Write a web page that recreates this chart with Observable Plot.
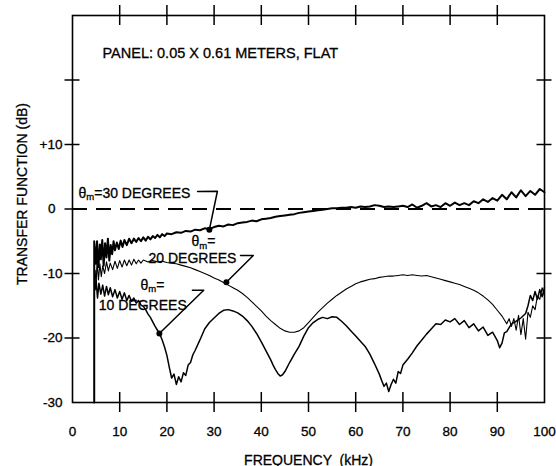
<!DOCTYPE html>
<html>
<head>
<meta charset="utf-8">
<script src="https://cdn.jsdelivr.net/npm/d3@7"></script>
<script src="https://cdn.jsdelivr.net/npm/@observablehq/plot@0.6"></script>
<style>
  html, body { margin: 0; padding: 0; background: #fff; }
  svg text { font-family: "Liberation Sans", Arial, Helvetica, sans-serif; stroke: #000; stroke-width: 0.3px; }
</style>
</head>
<body>
<div id="chart"></div>
<script>
// ---- Data (frequency kHz, transfer function dB) ----
const deg30 = [
  [4.6,-30],[4.6,-5.0],[5.0,-8.5],[5.2,-5.0],[5.5,-9.0],[5.8,-5.5],[6.0,-7.8],[6.3,-4.8],[6.6,-8.8],[6.9,-5.3],
  [7.2,-7.5],[7.5,-4.6],[7.8,-8.0],[8.1,-5.6],[8.4,-7.0],[8.7,-5.0],[9.0,-6.4],[9.4,-5.2],[9.8,-6.2],[10.2,-4.9],
  [10.6,-5.9],[11,-4.8],[11.5,-5.6],[12,-4.6],[12.5,-5.3],[13,-4.6],[13.5,-5.1],[14,-4.5],[14.5,-5.0],[15,-4.4],
  [15.5,-4.9],[16,-4.3],[16.5,-4.7],[17,-4.2],[17.5,-4.5],[18,-4.0],[18.5,-4.4],[19,-3.9],[19.5,-4.2],[20,-3.8],
  [21,-3.9],[22,-3.6],[23,-3.7],[24,-3.4],[25,-3.5],[26,-3.2],[27,-3.3],[28,-3.0],[29,-3.1],[30,-2.8],
  [31,-2.6],[32,-2.7],[33,-2.4],[34,-2.5],[35,-2.2],[36,-2.1],[37,-2.0],[38,-1.8],[39,-1.9],[40,-1.6],
  [41,-1.5],[42,-1.4],[43,-1.2],[44,-1.1],[45,-1.0],[46,-0.9],[47,-0.8],[48,-0.6],[49,-0.5],[50,-0.4],
  [51,-0.3],[52,-0.2],[53,-0.1],[54,0],[55,0.1],[56,0.1],[57,0.2],[58,0.2],[59,0.3],[60,0.2],
  [61,0.4],[62,0.3],[63,0.4],[64,0.6],[65,0.5],[66,0.3],[67,0.4],[68,0.3],[69,0.4],[70,0.5],
  [71,0.3],[72,0.7],[73,0.2],[74,0.5],[75,0.9],[76,0.4],[77,0.6],[78,0.3],[79,0.9],[80,0.5],
  [81,1.0],[82,0.6],[83,0.9],[84,0.6],[85,1.2],[86,0.9],[87,1.5],[88,1.1],[89,1.7],[90,1.3],
  [91,2.2],[92,1.5],[93,2.6],[94,1.8],[95,2.9],[96,2.0],[97,2.8],[98,2.2],[99,3.1],[100,2.6]
];
const deg20 = [
  [4.8,-9.5],[5.0,-12.0],[5.2,-8.0],[5.5,-11.0],[5.8,-8.5],[6.1,-10.5],[6.4,-8.8],[6.8,-10.0],[7.2,-8.2],[7.6,-9.6],
  [8.0,-8.4],[8.5,-9.4],[9.0,-8.1],[9.5,-9.2],[10,-8.0],[10.5,-9.0],[11,-7.9],[11.5,-8.8],[12,-7.9],[12.5,-8.7],
  [13,-7.8],[13.5,-8.5],[14,-7.9],[14.5,-8.4],[15,-7.9],[16,-8.2],[17,-8.0],[18,-8.2],[19,-8.1],[20,-8.3],
  [21,-8.4],[22,-8.5],[23,-8.7],[24,-8.9],[25,-9.1],[26,-9.4],[27,-9.7],[28,-10.0],[29,-10.3],[30,-10.7],
  [31,-11.0],[32,-11.4],[33,-11.8],[34,-12.2],[35,-12.6],[36,-13.1],[37,-13.7],[38,-14.4],[39,-15.1],[40,-15.8],
  [41,-16.6],[42,-17.3],[43,-17.9],[44,-18.5],[45,-18.9],[46,-19.1],[47,-19.1],[48,-18.9],[49,-18.4],[50,-17.6],
  [51,-16.8],[52,-16.0],[53,-15.3],[54,-14.6],[55,-14.0],[56,-13.4],[57,-12.9],[58,-12.4],[59,-12.0],[60,-11.6],
  [61,-11.3],[62,-11.1],[63,-10.9],[64,-10.8],[65,-10.6],[66,-10.5],[67,-10.4],[68,-10.4],[69,-10.3],[70,-10.2],
  [71,-10.3],[72,-10.2],[73,-10.3],[74,-10.4],[75,-10.3],[76,-10.5],[77,-10.7],[78,-10.9],[79,-11.1],[80,-11.3],
  [81,-11.5],[82,-11.7],[83,-12.0],[84,-12.3],[85,-12.6],[86,-13.0],[87,-13.5],[88,-14.1],[89,-14.8],[90,-15.7],
  [91,-16.6],[91.5,-17.2],[92,-17.8],[92.5,-17.0],[93,-18.2],[93.5,-17.0],[94,-18.8],[94.5,-16.5],[95,-19.5],[95.5,-17.0],
  [96,-20.2],[96.5,-16.0],[97,-16.8],[97.5,-15.0],[98,-15.6],[98.5,-13.5],[99,-14.0],[99.5,-12.2],[100,-13.5]
];
const deg10 = [
  [4.8,-12.5],[5.0,-11.0],[5.3,-13.8],[5.6,-11.5],[6.0,-13.2],[6.4,-11.8],[6.8,-13.5],[7.2,-12.0],[7.6,-13.3],[8.0,-12.2],
  [8.5,-13.6],[9.0,-12.5],[9.5,-13.8],[10,-12.8],[10.5,-14.0],[11,-13.0],[11.5,-14.2],[12,-13.4],[12.5,-14.3],[13,-13.8],
  [13.5,-14.6],[14,-14.2],[14.5,-14.9],[15,-15.1],[15.5,-15.6],[16,-16.3],[16.5,-16.8],[17,-17.5],[17.5,-18.2],[18,-18.8],
  [18.5,-19.4],[19,-20.3],[19.5,-21.4],[20,-22.7],[20.5,-24.5],[21,-26.2],[21.5,-25.6],[22,-27.2],[22.5,-26.0],[23,-26.8],
  [23.5,-25.4],[24,-25.8],[24.5,-24.2],[25,-23.8],[25.5,-22.6],[26,-21.9],[27,-20.3],[28,-18.6],[29,-17.6],[30,-16.9],
  [31,-16.2],[32,-15.7],[33,-15.6],[34,-15.8],[35,-16.1],[36,-16.6],[37,-17.3],[38,-18.2],[39,-19.3],[40,-20.6],
  [41,-22.0],[42,-23.4],[42.5,-24.2],[43,-24.9],[43.5,-25.5],[44,-25.9],[44.5,-25.7],[45,-25.2],[46,-23.8],[47,-22.5],
  [48,-21.3],[49,-19.7],[50,-18.4],[51,-17.6],[52,-17.1],[53,-16.8],[54,-17.0],[55,-16.7],[56,-16.8],[57,-17.4],
  [58,-18.1],[59,-18.9],[60,-19.7],[61,-20.5],[62,-21.3],[63,-22.5],[64,-24.0],[65,-25.6],[65.5,-26.6],[66,-27.5],
  [66.5,-27.0],[67,-28.3],[67.5,-27.2],[68,-26.4],[68.5,-27.0],[69,-25.2],[69.5,-25.5],[70,-24.2],[71,-23.3],[72,-22.3],
  [73,-21.2],[74,-20.3],[75,-19.4],[76,-18.6],[77,-17.8],[78,-17.9],[79,-17.2],[80,-17.5],[81,-17.0],[82,-17.9],
  [83,-17.3],[84,-18.4],[85,-17.8],[86,-18.9],[87,-18.3],[88,-19.6],[89,-19.1],[90,-20.4],[90.5,-21.5],[91,-20.8],
  [91.5,-19.2],[92,-19.0],[93,-17.8],[94,-17.4],[95,-16.9],[96,-16.2],[96.5,-15.0],[97,-13.4],[97.5,-14.2],[98,-12.8],
  [98.5,-14.0],[99,-12.5],[99.5,-13.6],[100,-12.2]
];

// ---- Tick labels ----
const xTickLabels = [0,10,20,30,40,50,60,70,80,90,100];
const yTickLabels = [-30,-20,-10,10];
const yZeroLabel = [0];
const xFrameTicks = [10,20,30,40,50,60,70,80,90];
const yFrameTicks = [-20,-10,0,10,20];

// ---- Annotations (text, leader lines, markers) ----
const panelNote = [{x: 6.36, y: 23.4, text: "PANEL: 0.05 X 0.61 METERS, FLAT"}];
const curveLabels = [
  {x: 1.27, y: 1.78, text: "θm=30 DEGREES"},
  {x: 25.2, y: -5.75, text: "θm="},
  {x: 16.1, y: -8.4, text: "20 DEGREES"},
  {x: 14.4, y: -12.5, text: "θm="},
  {x: 5.57, y: -15.7, text: "10 DEGREES"}
];
const leaders = [
  {k: "30", x: 26.5, y: 2.7}, {k: "30", x: 30.7, y: 2.75}, {k: "30", x: 29.0, y: -3.2},
  {k: "20", x: 35.6, y: -7.2}, {k: "20", x: 38.3, y: -7.2}, {k: "20", x: 32.6, y: -11.35},
  {k: "10", x: 25.4, y: -12.6}, {k: "10", x: 27.8, y: -12.6}, {k: "10", x: 18.4, y: -19.3}
];
const markers = [
  {x: 29.0, y: -3.2}, {x: 32.6, y: -11.35}, {x: 18.4, y: -19.3}
];

const W = 556, H = 466, mL = 72, mR = 12, mT = 15, mB = 64;
const innerH = H - mT - mB, innerW = W - mL - mR;
const tickHalfX = 10, tickHalfY = 7.5;
const font = "Liberation Sans, Arial, Helvetica, sans-serif";

const chart = Plot.plot({
  width: W, height: H,
  marginLeft: mL, marginRight: mR, marginTop: mT, marginBottom: mB,
  style: {background: "#fff", color: "#000", fontFamily: font},
  x: {domain: [0, 100], axis: null},
  y: {domain: [-30, 30], axis: null},
  marks: [
    // tick labels
    Plot.axisX(xTickLabels, {anchor: "bottom", tickSize: 0, tickPadding: 24, tickFormat: d => String(d), label: null, fontSize: 13.5, fill: "#000"}),
    Plot.axisY(yTickLabels, {anchor: "left", tickSize: 0, tickPadding: 10, tickFormat: d => d > 0 ? "+" + d : String(d), label: null, fontSize: 13.5, fill: "#000"}),
    Plot.axisY(yZeroLabel, {anchor: "left", tickSize: 0, tickPadding: 17, tickFormat: d => String(d), label: null, fontSize: 13.5, fill: "#000"}),
    // axis titles
    Plot.text(["FREQUENCY  (kHz)"], {frameAnchor: "bottom", dy: 62, lineAnchor: "bottom", fontSize: 14, fill: "#000"}),
    Plot.text(["TRANSFER FUNCTION (dB)"], {frameAnchor: "left", dx: -50, dy: -15, rotate: -90, textAnchor: "middle", lineAnchor: "middle", fontSize: 14, fill: "#000"}),
    // zero reference
    Plot.ruleY([0], {stroke: "#000", strokeWidth: 2, strokeDasharray: "15,9"}),
    // curves
    Plot.line(deg20, {x: d => d[0], y: d => d[1], stroke: "#000", strokeWidth: 1.1, strokeLinejoin: "round"}),
    Plot.line(deg10, {x: d => d[0], y: d => d[1], stroke: "#000", strokeWidth: 1.5, strokeLinejoin: "round"}),
    Plot.line(deg30, {x: d => d[0], y: d => d[1], stroke: "#000", strokeWidth: 2, strokeLinejoin: "round"}),
    // leaders and markers
    Plot.line(leaders, {x: "x", y: "y", z: "k", stroke: "#000", strokeWidth: 1.5}),
    Plot.dot(markers, {x: "x", y: "y", r: 3, fill: "#000", stroke: "none"}),
    // annotation text
    Plot.text(panelNote, {x: "x", y: "y", text: "text", textAnchor: "start", lineAnchor: "bottom", fontSize: 14.5, fill: "#000"}),
    Plot.text(curveLabels, {x: "x", y: "y", text: "text", textAnchor: "start", lineAnchor: "bottom", fontSize: 14, fill: "#000"}),
    // frame and crossing ticks
    Plot.frame({stroke: "#000", strokeWidth: 1.6}),
    Plot.tickX(xFrameTicks, {x: d => d, stroke: "#000", strokeWidth: 1.5, insetTop: innerH - tickHalfX, insetBottom: -tickHalfX}),
    Plot.tickX(xFrameTicks, {x: d => d, stroke: "#000", strokeWidth: 1.5, insetTop: -tickHalfX, insetBottom: innerH - tickHalfX}),
    Plot.tickY(yFrameTicks, {y: d => d, stroke: "#000", strokeWidth: 1.5, insetLeft: -tickHalfY, insetRight: innerW - tickHalfY}),
    Plot.tickY(yFrameTicks, {y: d => d, stroke: "#000", strokeWidth: 1.5, insetLeft: innerW - tickHalfY, insetRight: -tickHalfY})
  ]
});

// subscript "m" in θm labels
const NS = "http://www.w3.org/2000/svg";
chart.querySelectorAll("text").forEach(t => {
  const s = t.textContent;
  if (t.childElementCount === 0 && s.startsWith("θm")) {
    t.textContent = "";
    const a = document.createElementNS(NS, "tspan"); a.textContent = "θ";
    const b = document.createElementNS(NS, "tspan"); b.textContent = "m";
    b.setAttribute("font-size", "9.5"); b.setAttribute("dy", "2.5");
    const c = document.createElementNS(NS, "tspan"); c.textContent = s.slice(2);
    c.setAttribute("dy", "-2.5");
    t.append(a, b, c);
  }
});

document.getElementById("chart").appendChild(chart);
</script>
</body>
</html>
